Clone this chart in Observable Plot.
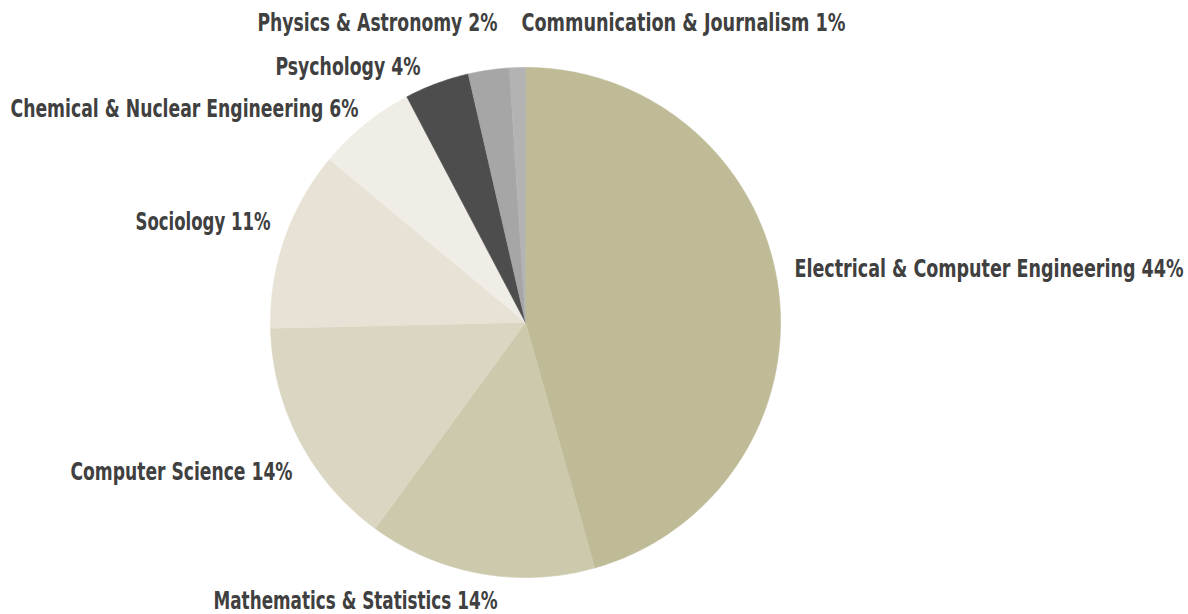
<!DOCTYPE html>
<html>
<head>
<meta charset="utf-8">
<script src="https://cdn.jsdelivr.net/npm/d3@7"></script>
<script src="https://cdn.jsdelivr.net/npm/@observablehq/plot@0.6"></script>
<style>
  html, body { margin: 0; padding: 0; background: #fff; }
  #chart svg { display: block; }
</style>
</head>
<body>
<div id="chart"></div>
<script>
// Data (clockwise from 12 o'clock)
const categories = [
  "Electrical & Computer Engineering",
  "Mathematics & Statistics",
  "Computer Science",
  "Sociology",
  "Chemical & Nuclear Engineering",
  "Psychology",
  "Physics & Astronomy",
  "Communication & Journalism"
];
const shares = [45.6, 14.4, 14.6, 11.4, 6.25, 4.1, 2.6, 1.0];
const labelPct = ["44%", "14%", "14%", "11%", "6%", "4%", "2%", "1%"];
const colors = ["#bfbb97", "#cdc9ad", "#dad6c1", "#e7e2d5", "#efede5", "#4d4d4d", "#a6a6a6", "#b3b3b3"];

// Label layout in pixels: [x, y, anchor, text width] – layout only
const labelPx = [
  [794, 268, "start", 389],
  [355, 600, "middle", 284],
  [292, 471, "end", 222],
  [270, 221, "end", 135],
  [358, 108, "end", 348],
  [420, 66, "end", 145],
  [497, 22, "end", 240],
  [521, 22, "start", 324]
];

const table = categories.map((c, i) => ({category: c, value: shares[i], pct: labelPct[i]}));
const arcs = d3.pie().sort(null).value(d => d.value)(table);

// Slice polygons in unit coordinates from pie angles
const polys = [];
arcs.forEach((a, i) => {
  const n = Math.max(2, Math.ceil((a.endAngle - a.startAngle) / 0.01));
  polys.push({k: i, x: 0, y: 0});
  for (let j = 0; j <= n; j++) {
    const t = a.startAngle + (a.endAngle - a.startAngle) * j / n;
    polys.push({k: i, x: Math.sin(t), y: Math.cos(t)});
  }
});

const W = 1188, H = 614;
const cx = 525, cy = 322, R = 255;

const labels = table.map((d, i) => ({
  text: `${d.category} ${d.pct}`,
  px: labelPx[i][0], py: labelPx[i][1], anchor: labelPx[i][2], w: labelPx[i][3]
}));

const chart = Plot.plot({
  width: W,
  height: H,
  marginLeft: cx - R,
  marginRight: W - (cx + R),
  marginTop: cy - R,
  marginBottom: H - (cy + R),
  x: {domain: [-1, 1], axis: null},
  y: {domain: [-1, 1], axis: null},
  style: {background: "#fff", fontFamily: "'DejaVu Sans Condensed', 'DejaVu Sans', sans-serif"},
  marks: [
    Plot.line(polys, {
      x: "x", y: "y", z: "k",
      fill: d => colors[d.k],
      stroke: d => colors[d.k],
      strokeWidth: 0.6,
      curve: "linear-closed"
    }),
    ...labels.map(l => Plot.text([l], {
      frameAnchor: "top-left",
      dx: l.px - (cx - R),
      dy: l.py - (cy - R),
      text: "text",
      textAnchor: l.anchor,
      lineAnchor: "middle",
      fontSize: 25,
      fontWeight: "bold",
      fill: "#404040",
      className: "lbl"
    }))
  ]
});
document.getElementById("chart").appendChild(chart);
// Fit each label to its measured width
chart.querySelectorAll("g.lbl text").forEach((t, i) => {
  t.setAttribute("textLength", labels[i].w);
  t.setAttribute("lengthAdjust", "spacingAndGlyphs");
});
</script>
</body>
</html>
